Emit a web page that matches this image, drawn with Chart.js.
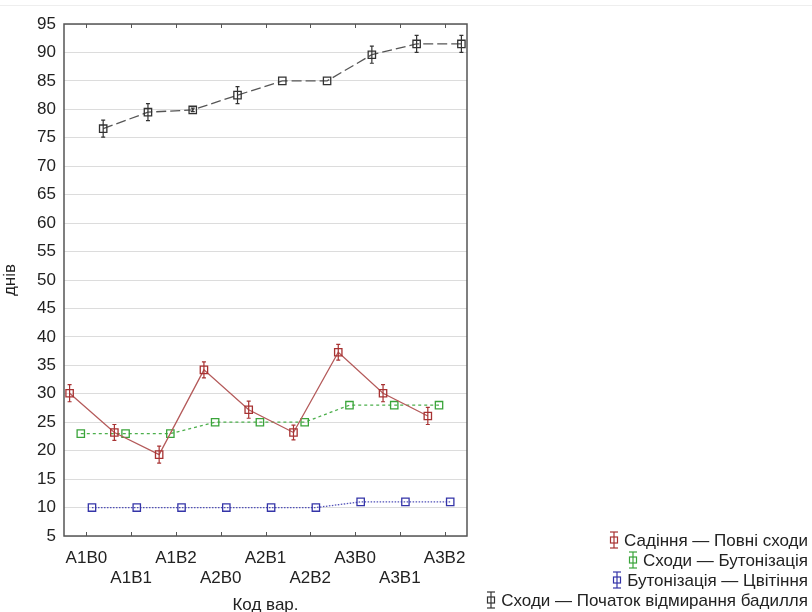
<!DOCTYPE html>
<html>
<head>
<meta charset="utf-8">
<script src="https://cdn.jsdelivr.net/npm/chart.js@4.4.1/dist/chart.umd.min.js"></script>
<style>
    html, body { margin: 0; padding: 0; background: #fff; }
    #wrap { position: relative; width: 812px; height: 612px; font-family: "Liberation Sans", Arial, sans-serif; }
    #topLine { position: absolute; left: 0; top: 5px; width: 812px; height: 1px; background: #eee; }
    #legend { position: absolute; right: 4px; top: 531px; text-align: right; font-size: 17px; color: #222; }
    #legend div { height: 20px; line-height: 20px; white-space: nowrap; }
    #legend svg { vertical-align: -3px; margin-right: 4px; }
</style>
</head>
<body>
<div id="wrap">
    <div id="topLine"></div>
    <canvas id="chart" width="812" height="612"></canvas>
    <div id="legend"></div>
</div>
<script>
// 数据
const categories = ['A1B0', 'A1B1', 'A1B2', 'A2B0', 'A2B1', 'A2B2', 'A3B0', 'A3B1', 'A3B2'];
const seriesNames = ['Садіння — Повні сходи', 'Сходи — Бутонізація', 'Бутонізація — Цвітіння', 'Сходи — Початок відмирання бадилля'];
const plantingEmergence = [30.1, 23.2, 19.3, 34.2, 27.2, 23.2, 37.3, 30.1, 26.1];
const plantingEmergenceErr = [1.5, 1.4, 1.5, 1.4, 1.5, 1.3, 1.4, 1.5, 1.5];
const emergenceBudding = [23, 23, 23, 25, 25, 25, 28, 28, 28];
const emergenceBuddingErr = [0, 0, 0, 0, 0, 0, 0, 0, 0];
const buddingFlowering = [10, 10, 10, 10, 10, 10, 11, 11, 11];
const buddingFloweringErr = [0, 0, 0, 0, 0, 0, 0, 0, 0];
const emergenceDieback = [76.6, 79.5, 79.9, 82.5, 85, 85, 89.6, 91.5, 91.5];
const emergenceDiebackErr = [1.5, 1.5, 0.3, 1.5, 0, 0, 1.5, 1.5, 1.5];
const yTicks = { min: 5, max: 95, step: 5 };

// 样式（每个系列在类别内的水平偏移）
const seriesOffsets = [-0.375, -0.125, 0.125, 0.375];
const markerColors = ['#a83232', '#3aa43a', '#3434a8', '#333333'];
const lineColors = ['#b45a5a', '#4caf4c', '#5050b8', '#555555'];
const lineDashes = [[], [3, 3], [1.5, 1.5], [10, 4]];

const allValues = [plantingEmergence, emergenceBudding, buddingFlowering, emergenceDieback];
const allErrors = [plantingEmergenceErr, emergenceBuddingErr, buddingFloweringErr, emergenceDiebackErr];

const datasets = allValues.map((values, s) => ({
    label: seriesNames[s],
    data: values.map((v, i) => ({ x: i + seriesOffsets[s], y: v, err: allErrors[s][i] })),
    borderColor: lineColors[s],
    borderWidth: 1.3,
    borderDash: lineDashes[s],
    pointStyle: 'rect',
    pointRadius: 5.2,
    pointBorderWidth: 1.3,
    pointBorderColor: markerColors[s],
    pointBackgroundColor: 'rgba(0,0,0,0)',
    tension: 0
}));

// 误差线 + 边框 + 刻度
const errorBarPlugin = {
    id: 'errorBars',
    afterDatasetsDraw(chart) {
        const ctx = chart.ctx;
        const xs = chart.scales.x, ys = chart.scales.y;
        ctx.save();
        chart.data.datasets.forEach((ds, s) => {
            ctx.strokeStyle = markerColors[s];
            ctx.lineWidth = 1.2;
            ds.data.forEach(p => {
                if (!p.err) return;
                const px = xs.getPixelForValue(p.x);
                const top = ys.getPixelForValue(p.y + p.err);
                const bot = ys.getPixelForValue(p.y - p.err);
                ctx.beginPath();
                ctx.moveTo(px, top); ctx.lineTo(px, bot);
                ctx.moveTo(px - 2, top); ctx.lineTo(px + 2, top);
                ctx.moveTo(px - 2, bot); ctx.lineTo(px + 2, bot);
                ctx.stroke();
            });
        });
        const a = chart.chartArea;
        ctx.strokeStyle = '#555';
        ctx.lineWidth = 1.5;
        ctx.strokeRect(a.left, a.top, a.right - a.left, a.bottom - a.top);
        ctx.lineWidth = 1;
        categories.forEach((c, i) => {
            const px = Math.round(xs.getPixelForValue(i)) + 0.5;
            ctx.beginPath();
            ctx.moveTo(px, a.top); ctx.lineTo(px, a.top + 4);
            ctx.moveTo(px, a.bottom); ctx.lineTo(px, a.bottom - 4);
            ctx.stroke();
        });
        ctx.restore();
    }
};

new Chart(document.getElementById('chart'), {
    type: 'line',
    data: { datasets },
    options: {
        responsive: false,
        animation: false,
        layout: { padding: { top: 24, right: 345, bottom: 0, left: 0 } },
        plugins: { legend: { display: false }, tooltip: { enabled: false } },
        scales: {
            x: {
                type: 'linear',
                min: -0.5,
                max: categories.length - 0.5,
                afterFit: s => { s.height = 76; },
                afterBuildTicks: s => { s.ticks = categories.map((c, i) => ({ value: i })); },
                grid: { display: false },
                border: { display: false },
                ticks: {
                    padding: 4,
                    autoSkip: false,
                    maxRotation: 0,
                    color: '#222',
                    font: { family: 'Liberation Sans', size: 17, lineHeight: 1.2 },
                    callback: v => (v % 2 === 0 ? [categories[v]] : ['', categories[v]])
                },
                title: {
                    display: true,
                    text: 'Код вар.',
                    color: '#222',
                    padding: { top: 0, bottom: -4 },
                    font: { family: 'Liberation Sans', size: 17 }
                }
            },
            y: {
                min: yTicks.min,
                max: yTicks.max,
                afterFit: s => { s.width = 64; },
                grid: { color: '#dcdcdc', lineWidth: 1, drawTicks: false },
                border: { display: false },
                ticks: {
                    stepSize: yTicks.step,
                    padding: 8,
                    color: '#222',
                    font: { family: 'Liberation Sans', size: 17 }
                },
                title: {
                    display: true,
                    text: 'днів',
                    color: '#222',
                    padding: { top: 0, bottom: 0 },
                    font: { family: 'Liberation Sans', size: 17 }
                }
            }
        }
    },
    plugins: [errorBarPlugin]
});

// 图例
const legend = document.getElementById('legend');
seriesNames.forEach((name, s) => {
    const c = markerColors[s];
    legend.innerHTML += '<div><svg width="12" height="18" viewBox="0 0 12 18">' +
        '<line x1="6" y1="1" x2="6" y2="17" stroke="' + c + '" stroke-width="1.2"/>' +
        '<line x1="2" y1="1" x2="10" y2="1" stroke="' + c + '" stroke-width="1.2"/>' +
        '<line x1="2" y1="17" x2="10" y2="17" stroke="' + c + '" stroke-width="1.2"/>' +
        '<rect x="2.5" y="6" width="7" height="6" fill="none" stroke="' + c + '" stroke-width="1.2"/>' +
        '</svg>' + name + '</div>';
});
</script>
</body>
</html>
